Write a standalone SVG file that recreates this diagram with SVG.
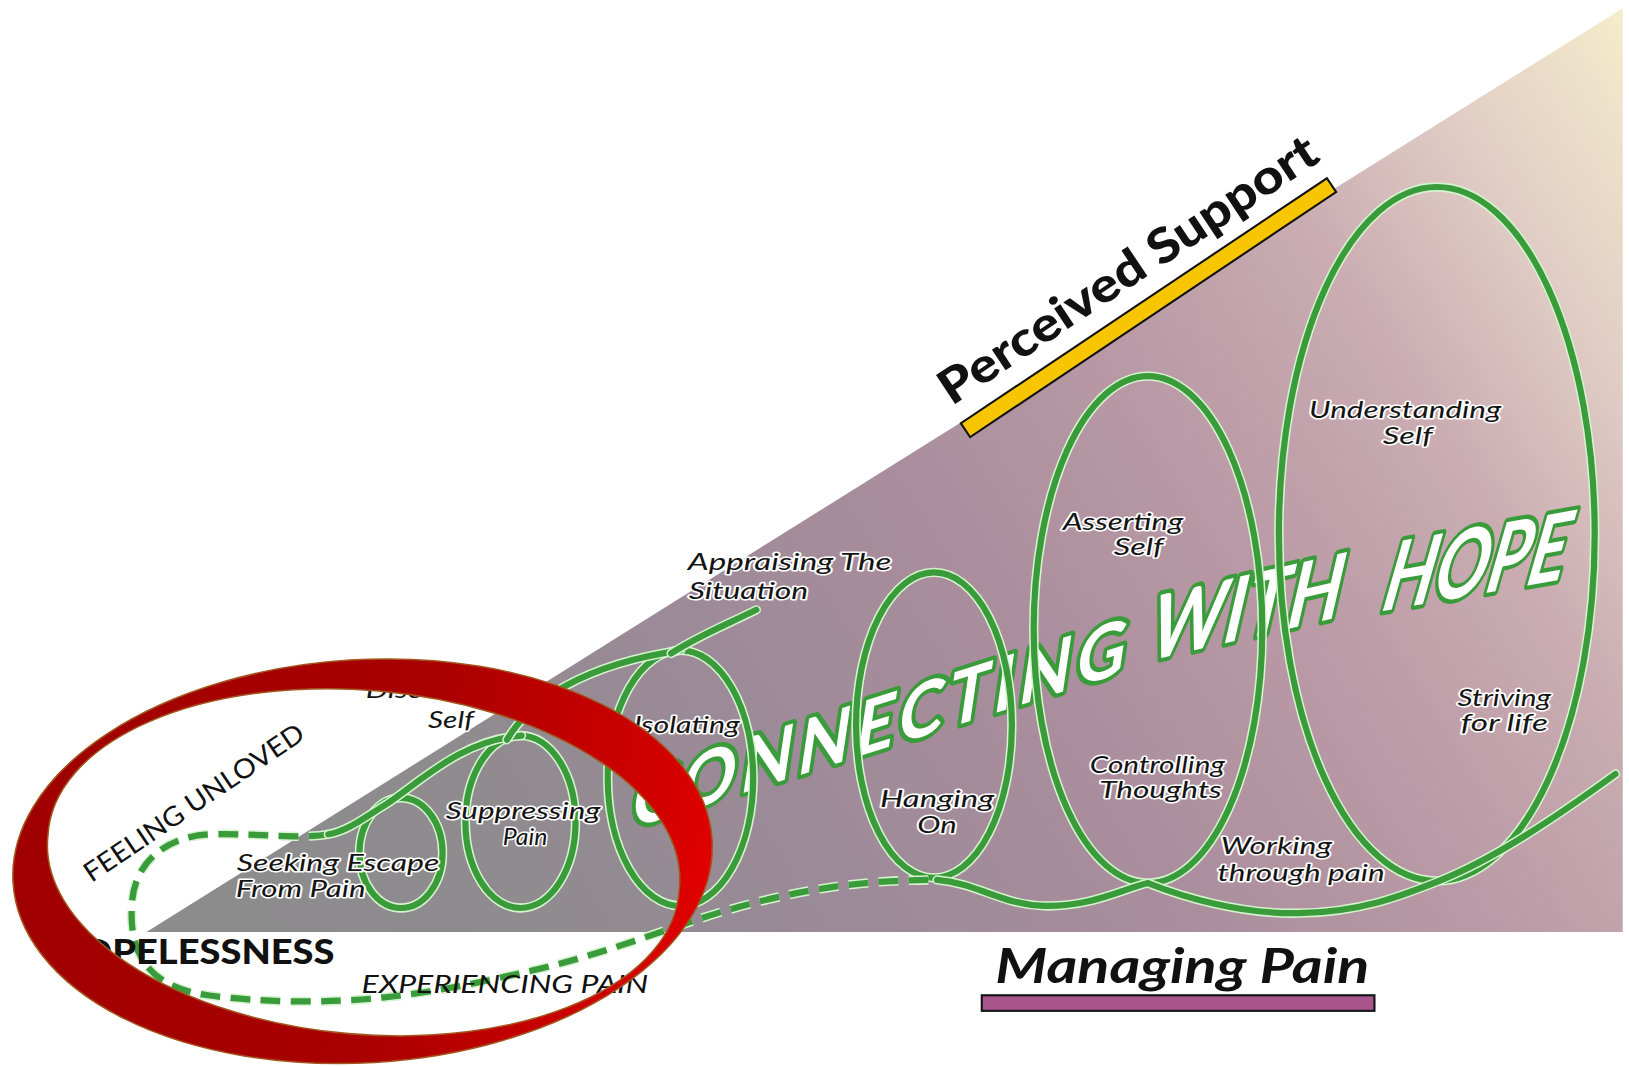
<svg xmlns="http://www.w3.org/2000/svg" width="1629" height="1066" viewBox="0 0 1629 1066">
<style>
.halo{fill:none;stroke:#d6f3cf;stroke-width:9}
.ln{fill:none;stroke:#3a9b3a;stroke-width:6}
.rnd{stroke-linecap:round}
.dsh{stroke-dasharray:19 10}
.lbl{font-family:Lato,'Open Sans',sans-serif;font-style:italic;font-size:23px;fill:#141414;stroke:#ffffff;stroke-width:3px;paint-order:stroke;stroke-linejoin:round}
.cap{font-family:Lato,'Open Sans',sans-serif;fill:#111111}
.hope{font-family:Lato,'Open Sans',sans-serif;font-weight:700;fill:#ffffff;stroke:#3a9b3a;stroke-width:8px;paint-order:stroke;stroke-linejoin:round}
</style>
<defs>
<linearGradient id="bg" gradientUnits="userSpaceOnUse" x1="141" y1="897" x2="1562" y2="8">
<stop offset="0" stop-color="#8c8c8c"/>
<stop offset="0.2" stop-color="#8f8b8f"/>
<stop offset="0.35" stop-color="#9c8a98"/>
<stop offset="0.5" stop-color="#a98d9c"/>
<stop offset="0.65" stop-color="#b999a5"/>
<stop offset="0.78" stop-color="#caacb2"/>
<stop offset="0.88" stop-color="#e0cbc4"/>
<stop offset="1" stop-color="#f4edcc"/>
</linearGradient>
<linearGradient id="red" gradientUnits="userSpaceOnUse" x1="12" y1="760" x2="686" y2="900">
<stop offset="0" stop-color="#a00000"/>
<stop offset="0.55" stop-color="#a90000"/>
<stop offset="0.85" stop-color="#cd0000"/>
<stop offset="1" stop-color="#e30000"/>
</linearGradient>
<path id="dashP" d="M316,803 C290,808 250,802 205,803 C160,804 129,830 127,870 C124,915 140,950 200,958 C250,965 320,966 370,960 C420,955 470,944 513,934 C600,914 660,885 730,868 C790,853 840,847 902,847"/>
<path id="s1" d="M316,803 C335,800 352,786 372,774 C405,752 445,712 502,708"/>
<path id="s2" d="M488,712 C510,675 560,640 655,626"/>
<path id="s3" d="M646,629 C672,612 702,600 728,587"/>
<path id="s4" d="M902,847 C940,850 965,871 1005,872 C1050,873 1080,856 1105,850 C1140,864 1195,880 1250,879 C1310,878 1350,862 1385,848 C1440,826 1500,785 1555,745"/>
<ellipse id="l1" cx="386" cy="821" rx="40" ry="53"/>
<ellipse id="l2" cx="501" cy="791" rx="53" ry="83"/>
<ellipse id="l3" cx="655" cy="749" rx="70" ry="123"/>
<ellipse id="l4" cx="899" cy="698" rx="75" ry="147"/>
<ellipse id="l5" cx="1105" cy="606" rx="110" ry="244"/>
<ellipse id="l6" cx="1383" cy="514" rx="152" ry="334"/>
</defs>
<rect x="0" y="0" width="1629" height="1066" fill="#ffffff"/>
<g transform="scale(1.0389)">
<g id="background">
<polygon points="141,897 1562,8 1562,897" fill="url(#bg)"/>
</g>
<g id="connecting-with-hope">
<text class="hope" transform="translate(606,798) rotate(-17.6) skewX(-26)" font-size="68" textLength="498" lengthAdjust="spacing">CONNECTING</text>
<text class="hope" transform="translate(1102,637) rotate(-13) skewX(-26)" font-size="82" textLength="190" lengthAdjust="spacingAndGlyphs">WITH</text>
<text class="hope" transform="translate(1326,589) rotate(-10) skewX(-26)" font-size="88" textLength="178" lengthAdjust="spacingAndGlyphs">HOPE</text>
</g>
<g id="loops">
<use href="#l1" class="halo"/><use href="#l1" class="ln"/>
<use href="#l2" class="halo"/><use href="#l2" class="ln"/>
<use href="#l3" class="halo"/><use href="#l3" class="ln"/>
<use href="#l4" class="halo"/><use href="#l4" class="ln"/>
<use href="#l5" class="halo"/><use href="#l5" class="ln"/>
<use href="#l6" class="halo"/><use href="#l6" class="ln"/>
</g>
<g id="connectors">
<use href="#dashP" class="halo dsh"/><use href="#dashP" class="ln dsh"/>
<use href="#s1" class="halo rnd"/><use href="#s1" class="ln rnd"/>
<use href="#s2" class="halo rnd"/><use href="#s2" class="ln rnd"/>
<use href="#s3" class="halo rnd"/><use href="#s3" class="ln rnd"/>
<use href="#s4" class="halo rnd"/><use href="#s4" class="ln rnd"/>
</g>
<g id="seeking-escape">
<text class="lbl" x="228" y="838" textLength="195" lengthAdjust="spacingAndGlyphs">Seeking Escape</text>
<text class="lbl" x="227" y="863" textLength="125" lengthAdjust="spacingAndGlyphs">From Pain</text>
</g>
<g id="suppressing-pain">
<text class="lbl" x="429" y="788" textLength="149" lengthAdjust="spacingAndGlyphs">Suppressing</text>
<text class="lbl" x="484" y="813" textLength="43" lengthAdjust="spacingAndGlyphs">Pain</text>
</g>
<g id="discounting-self">
<text class="lbl" x="352" y="672" textLength="150" lengthAdjust="spacingAndGlyphs">Discounting</text>
<text class="lbl" x="412" y="701" textLength="44" lengthAdjust="spacingAndGlyphs">Self</text>
</g>
<g id="isolating">
<text class="lbl" x="610" y="706" textLength="102" lengthAdjust="spacingAndGlyphs">Isolating</text>
</g>
<g id="appraising">
<text class="lbl" x="662" y="549" textLength="196" lengthAdjust="spacingAndGlyphs">Appraising The</text>
<text class="lbl" x="663" y="577" textLength="115" lengthAdjust="spacingAndGlyphs">Situation</text>
</g>
<g id="hanging-on">
<text class="lbl" x="847" y="777" textLength="110" lengthAdjust="spacingAndGlyphs">Hanging</text>
<text class="lbl" x="883" y="802" textLength="38" lengthAdjust="spacingAndGlyphs">On</text>
</g>
<g id="asserting-self">
<text class="lbl" x="1023" y="510" textLength="116" lengthAdjust="spacingAndGlyphs">Asserting</text>
<text class="lbl" x="1072" y="534" textLength="48" lengthAdjust="spacingAndGlyphs">Self</text>
</g>
<g id="controlling-thoughts">
<text class="lbl" x="1049" y="744" textLength="130" lengthAdjust="spacingAndGlyphs">Controlling</text>
<text class="lbl" x="1058" y="768" textLength="118" lengthAdjust="spacingAndGlyphs">Thoughts</text>
</g>
<g id="understanding-self">
<text class="lbl" x="1260" y="402" textLength="185" lengthAdjust="spacingAndGlyphs">Understanding</text>
<text class="lbl" x="1331" y="427" textLength="48" lengthAdjust="spacingAndGlyphs">Self</text>
</g>
<g id="striving">
<text class="lbl" x="1403" y="680" textLength="90" lengthAdjust="spacingAndGlyphs">Striving</text>
<text class="lbl" x="1406" y="704" textLength="84" lengthAdjust="spacingAndGlyphs">for life</text>
</g>
<g id="working">
<text class="lbl" x="1175" y="822" textLength="107" lengthAdjust="spacingAndGlyphs">Working</text>
<text class="lbl" x="1172" y="848" textLength="161" lengthAdjust="spacingAndGlyphs">through pain</text>
</g>
<g id="feeling-unloved">
<text class="cap" transform="translate(88,850) rotate(-34)" font-size="26" textLength="250" lengthAdjust="spacingAndGlyphs">FEELING UNLOVED</text>
</g>
<g id="hopelessness">
<text class="cap" x="50" y="928" font-size="33" font-weight="900" textLength="272" lengthAdjust="spacingAndGlyphs">HOPELESSNESS</text>
</g>
<g id="experiencing-pain">
<text class="cap" x="348" y="956" font-size="25" font-style="italic" textLength="276" lengthAdjust="spacingAndGlyphs">EXPERIENCING PAIN</text>
</g>
<g id="ring">
<path d="M685.4,808.4 A337,194 -3.5 1,1 12.6,849.6 A337,194 -3.5 1,1 685.4,808.4 Z M653.8,856.6 A305,163 5 1,1 46.2,803.4 A305,163 5 1,1 653.8,856.6 Z" fill="url(#red)" fill-rule="evenodd" stroke="#a3551c" stroke-width="1.5"/>
</g>
<g id="perceived-support">
<rect transform="translate(931,413) rotate(-33.8)" x="-2" y="-8" width="424" height="16" fill="#f8c600" stroke="#111111" stroke-width="2"/>
<text class="cap" transform="translate(916,391) rotate(-33.6)" font-size="46" font-weight="900" textLength="428" lengthAdjust="spacingAndGlyphs" stroke="#ffffff" stroke-width="2" paint-order="stroke">Perceived Support</text>
</g>
<g id="managing-pain">
<text class="cap" x="958" y="946" font-size="46" font-weight="700" font-style="italic" textLength="360" lengthAdjust="spacingAndGlyphs">Managing Pain</text>
<rect x="945" y="958" width="378" height="15" fill="#a8558e" stroke="#111111" stroke-width="2"/>
</g>
</g>
</svg>
